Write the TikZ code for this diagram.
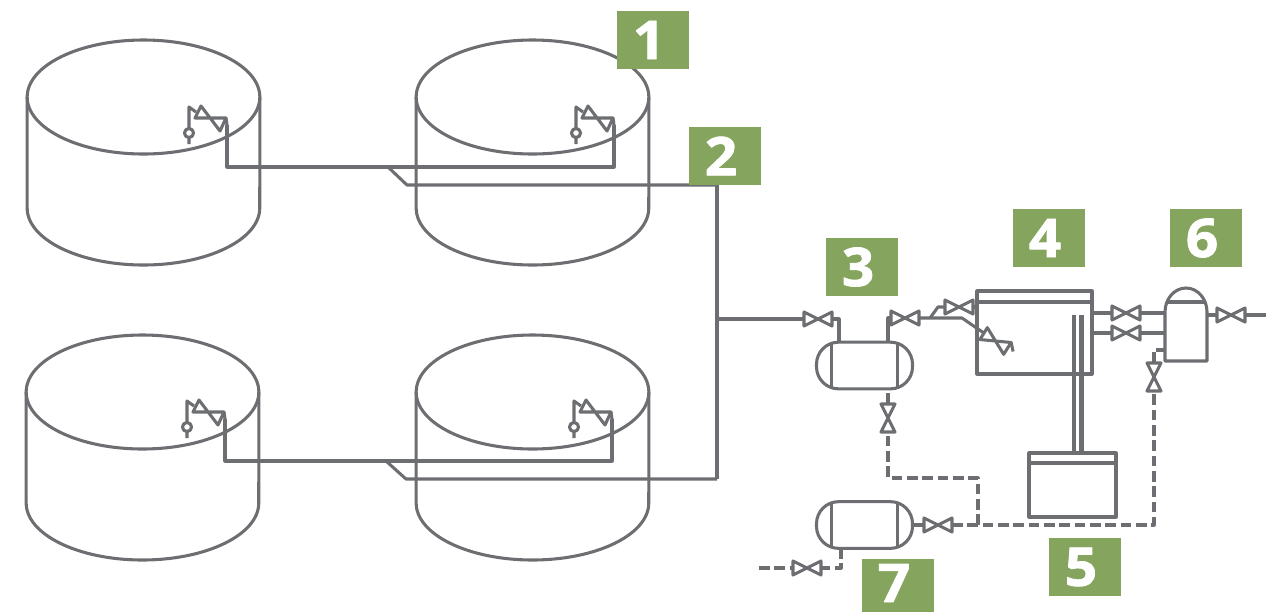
\documentclass[tikz,border=0pt]{standalone}
\usepackage{fontspec}
\setsansfont[BoldFeatures={FakeBold=1.6,FakeStretch=1.06}]{Open Sans}
\usetikzlibrary{shapes.geometric}
\definecolor{pipegray}{HTML}{6D6E71}
\definecolor{taggreen}{HTML}{85A55F}

\begin{document}
\begin{tikzpicture}[
        x=0.75pt, y=-0.75pt,
        line width=2.3pt, line join=round, color=pipegray,
        tank/.style = {
            draw, ellipse, outer sep=0pt,
            minimum width=174.5pt,
            minimum height=85.5pt,
            inner sep=0pt
        },
        vessel/.style = {
            draw, rounded corners=16.5pt, outer sep=0pt,
            minimum width=72pt,
            minimum height=35pt,
            inner sep=0pt
        },
        valve/.style = {
            outer sep=0pt,
            minimum width=21pt,
            minimum height=10.5pt,
            inner sep=0pt
        },
        tag/.style = {
            fill=taggreen, text=white, outer sep=0pt,
            minimum width=54pt,
            minimum height=43.5pt,
            inner sep=0pt,
            execute at begin node={\hspace*{-6pt}},
            font=\sffamily\bfseries\fontsize{40}{40}\selectfont
        },
        feed/.style = {dashed, dash pattern=on 8pt off 3.5pt},
        relief/.pic = {
            \coordinate (-out) at (0,0);
            \draw (-1,-7) -- (0,0);
            \draw (-32,-7) -- (-26,-19) -- (-7,6) -- (-1,-7) -- cycle;
            \draw (-38,19) -- (-38,-18) -- (-31,-13);
            \draw[fill=white] (-38,8) circle (3.4pt);
        }]

        \useasboundingbox (0,0) rectangle (1266,612);
        \clip (0,0) rectangle (1266,612);

        % tanks
        \node[tank] (t1) at (143.5,97) {};
        \node[tank] (t2) at (532.5,97) {};
        \node[tank] (t3) at (142.5,392) {};
        \node[tank] (t4) at (532.5,392) {};
        \draw (t1.west) -- ++(0,111) arc (180:0:116.3 and 57) -- (t1.east);
        \draw (t2.west) -- ++(0,111) arc (180:0:116.3 and 57) -- (t2.east);
        \draw (t3.west) -- ++(0,111) arc (180:0:116.3 and 57) -- (t3.east);
        \draw (t4.west) -- ++(0,111) arc (180:0:116.3 and 57) -- (t4.east);

        \pic (r1) at (227,125) {relief};
        \pic (r2) at (614,125) {relief};
        \pic (r3) at (225,419) {relief};
        \pic (r4) at (612,419) {relief};

        % collecting lines
        \coordinate (m1) at (388,167);
        \coordinate (m2) at (386,461);
        \coordinate (c1) at (717,185);
        \coordinate (c2) at (717,479);
        \coordinate (c3) at (717,319);
        \draw (r1-out) |- (m1) -| (r2-out);
        \draw (r3-out) |- (m2) -| (r4-out);
        \draw (m1) -- (407,185) -- (c1);
        \draw (m2) -- (406,479) -- (c2);
        \draw (c1) -- (c2);

        % vessels and boxes
        \node[vessel] (v3) at (864.5,365.5) {};
        \node[vessel] (v7) at (864.5,525) {};
        \draw ([xshift=11pt]v3.north west) -- ([xshift=11pt]v3.south west);
        \draw ([xshift=-11pt]v3.north east) -- ([xshift=-11pt]v3.south east);
        \draw ([xshift=11pt]v7.north west) -- ([xshift=11pt]v7.south west);
        \draw ([xshift=-11pt]v7.north east) -- ([xshift=-11pt]v7.south east);

        \node[draw, outer sep=0pt, minimum width=86.25pt, minimum height=62.25pt, inner sep=0pt] (b4) at (1034.5,332.5) {};
        \draw (b4.west |- 0,302) -- (b4.east |- 0,302);
        \node[draw, outer sep=0pt, minimum width=65.25pt, minimum height=48pt, inner sep=0pt] (b5) at (1072.5,485) {};
        \draw (b5.west |- 0,463) -- (b5.east |- 0,463);
        \draw (1074,315) -- (1074,453);
        \draw[line width=3.8pt] (1081.5,315) -- (1081.5,453);

        \coordinate (d6l) at (1165,312);
        \coordinate (d6r) at (1207,312);
        \draw (d6l) arc (180:360:21 and 24) -- (1207,361) -- (1165,361) -- cycle;
        \draw (1168,302) -- (1204,302);

        % valves
        \node[valve] (va) at (818,319) {};
        \node[valve] (vb) at (905,318) {};
        \node[valve] (vc) at (959,307) {};
        \node[valve] (vd) at (1126,313) {};
        \node[valve] (ve) at (1126,333) {};
        \node[valve] (vf) at (1231,315) {};
        \node[valve, rotate=90] (vg) at (1154,377) {};
        \node[valve, rotate=90] (vh) at (888,418) {};
        \node[valve] (vi) at (938,525) {};
        \node[valve] (vj) at (807,568) {};
        \node[valve, rotate=-32] (vk) at (995.5,341) {};
        \foreach \v in {va,vb,vc,vd,ve,vf,vg,vh,vi,vj,vk}
            \draw (\v.north west) -- (\v.south east) -- (\v.north east) -- (\v.south west) -- cycle;
        \draw (vk.north east) -- ++(2,9);

        % process lines
        \draw (c3) -- (va);
        \draw (va) -| (839,342);
        \draw (vb) -| (888,342);
        \draw (vb) -- (962,318) -- (vk);
        \draw (930,318) -- (938,307) -- (vc);
        \draw (vc) -- (977,307);
        \draw (1092,313) -- (vd);
        \draw (vd) -- (1165,313);
        \draw (1092,333) -- (ve);
        \draw (ve) -- (1165,333);
        \draw (1207,315) -- (vf);
        \draw (vf) -- (1266,315);
        \draw (v7.east) -- (vi);

        % dashed lines
        \coordinate (j1) at (978,525);
        \draw[feed] (vi) -- (j1) -- (1154,525) -- (vg);
        \draw[feed] (vg) |- (1165,350);
        \draw[feed] (j1) |- (888,478) -- (vh);
        \draw[feed] (vh) -- (888,389);
        \draw[feed] (841,548) |- (vj);
        \draw[feed] (759,568) -- (vj);

        % numbers
        \node[tag] (n1) at (653,40) {1};
        \node[tag] (n2) at (725,156) {2};
        \node[tag] (n3) at (862,267) {3};
        \node[tag] (n4) at (1049,238) {4};
        \node[tag] (n5) at (1085,567) {5};
        \node[tag] (n6) at (1206,238) {6};
        \node[tag, minimum height=39.75pt, text height=24.8pt, text depth=0pt] (n7) at (898,585.5) {7};
    \end{tikzpicture}
\end{document}
